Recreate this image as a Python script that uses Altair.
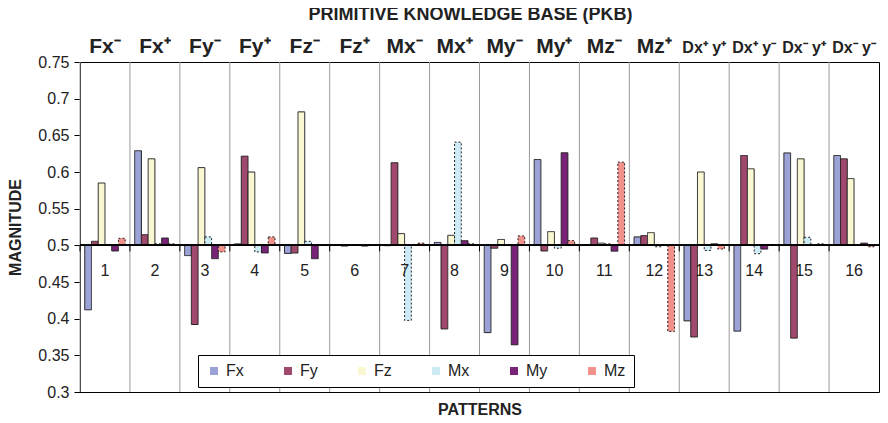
import altair as alt
import pandas as pd

# ---------------- data ----------------
PATTERNS = list(range(1, 17))
TOP_LABELS = ["Fx⁻", "Fx⁺", "Fy⁻", "Fy⁺", "Fz⁻", "Fz⁺", "Mx⁻", "Mx⁺",
              "My⁻", "My⁺", "Mz⁻", "Mz⁺", "Dx⁺ y⁺", "Dx⁺ y⁻", "Dx⁻ y⁺", "Dx⁻ y⁻"]
SERIES = ["Fx", "Fy", "Fz", "Mx", "My", "Mz"]

Fx = [0.412, 0.629, 0.486, 0.502, 0.489, 0.500, 0.4995, 0.504,
      0.381, 0.617, 0.5005, 0.5115, 0.397, 0.383, 0.626, 0.6225]
Fy = [0.5055, 0.5146, 0.392, 0.6216, 0.4895, 0.499, 0.6126, 0.386,
      0.496, 0.4923, 0.510, 0.5133, 0.375, 0.6225, 0.3735, 0.618]
Fz = [0.585, 0.618, 0.606, 0.600, 0.682, 0.500, 0.516, 0.5137,
      0.508, 0.5187, 0.503, 0.5173, 0.600, 0.6044, 0.618, 0.591]
Mx = [0.500, 0.502, 0.5115, 0.491, 0.5055, 0.500, 0.3976, 0.6407,
      0.500, 0.496, 0.502, 0.498, 0.493, 0.4886, 0.511, 0.500]
My = [0.4923, 0.510, 0.4818, 0.4896, 0.4818, 0.499, 0.500, 0.5064,
      0.3644, 0.6262, 0.492, 0.500, 0.502, 0.4949, 0.500, 0.503]
Mz = [0.5096, 0.502, 0.491, 0.5115, 0.500, 0.500, 0.503, 0.502,
      0.5128, 0.5064, 0.6134, 0.3826, 0.495, 0.501, 0.502, 0.498]

Y_TICKS = [0.3, 0.35, 0.4, 0.45, 0.5, 0.55, 0.6, 0.65, 0.7, 0.75]
Y_MIN, Y_MAX = 0.3, 0.75
BASELINE = 0.5

# ---------------- styles ----------------
COLORS = ["#9AA2D6", "#A0486E", "#FAF8D2", "#CDEBF5", "#782378", "#F0918C"]
DASHES = [[1, 0], [1, 0], [1, 0], [2, 2], [1, 0], [2, 2]]
WIDTHS = [1, 1, 1, 2, 1, 2]
FONT = "Liberation Sans"

values = {"Fx": Fx, "Fy": Fy, "Fz": Fz, "Mx": Mx, "My": My, "Mz": Mz}
rows = []
for s in SERIES:
    for p, v in zip(PATTERNS, values[s]):
        rows.append({"Pattern": p, "Series": s, "Value": v})
df = pd.DataFrame(rows)
pat_df = pd.DataFrame({"Pattern": PATTERNS, "Label": TOP_LABELS})

x_scale = alt.Scale(paddingInner=0, paddingOuter=0)
x_axis = alt.Axis(labels=False, ticks=False, domain=False,
                  title="PATTERNS", titleFontSize=16,
                  titleFontWeight="bold", titleColor="#222",
                  titlePadding=9)
y_scale = alt.Scale(domain=[Y_MIN, Y_MAX], nice=False, zero=False)
y_axis = alt.Axis(values=Y_TICKS, format="~g", title="MAGNITUDE",
                  grid=False, tickSize=6, labelPadding=5, labelOverlap=False,
                  labelFontSize=16, labelColor="#222",
                  titleFontSize=16, titleFontWeight="bold",
                  titleColor="#222", titlePadding=14,
                  domainColor="black", tickColor="black")


def xpos(**kw):
    return alt.X("Pattern:O", scale=x_scale, axis=x_axis, **kw)


def ydatum(v):
    return alt.YDatum(v, scale=y_scale, axis=y_axis)


legend_def = alt.Legend(title=None, orient="none", legendX=118, legendY=293,
                        direction="horizontal", columns=6,
                        strokeColor="black", padding=8, fillColor="white",
                        symbolType="square", symbolSize=64,
                        symbolStrokeColor="black", symbolStrokeWidth=1.2,
                        labelFontSize=16, labelColor="#222", labelFont=FONT,
                        columnPadding=36, labelOffset=4)

bars = alt.Chart(df).mark_bar(stroke="#222").encode(
    x=xpos(),
    xOffset=alt.XOffset("Series:N", sort=SERIES,
                        scale=alt.Scale(paddingInner=0, paddingOuter=0.7)),
    y=alt.Y("Value:Q", scale=y_scale, axis=y_axis),
    y2=alt.datum(BASELINE),
    color=alt.Color("Series:N", sort=SERIES,
                    scale=alt.Scale(domain=SERIES, range=COLORS),
                    legend=legend_def),
    strokeDash=alt.StrokeDash("Series:N", sort=SERIES,
                              scale=alt.Scale(domain=SERIES, range=DASHES),
                              legend=legend_def),
    strokeWidth=alt.StrokeWidth("Series:N", sort=SERIES,
                                scale=alt.Scale(domain=SERIES, range=WIDTHS),
                                legend=None),
)

separators = alt.Chart(pat_df).mark_rule(color="#9a9a9a", strokeWidth=1).encode(
    x=xpos(bandPosition=0),
    y=ydatum(Y_MAX),
    y2=alt.datum(Y_MIN),
)

baseline = alt.Chart(pat_df).mark_rule(color="black", strokeWidth=1).encode(
    y=ydatum(BASELINE))

ticks = alt.Chart(pat_df).mark_rule(color="black", strokeWidth=1, y2Offset=6).encode(
    x=xpos(bandPosition=0),
    y=ydatum(BASELINE),
    y2=alt.datum(BASELINE),
)

numbers = alt.Chart(pat_df).mark_text(font=FONT, fontSize=16, color="#222",
                                      baseline="alphabetic", dy=31).encode(
    x=xpos(),
    y=ydatum(BASELINE),
    text=alt.Text("Pattern:O"),
)

top_labels = alt.Chart(pat_df).mark_text(font=FONT, fontWeight="bold",
                                         color="#222", baseline="alphabetic",
                                         dy=-9).encode(
    x=xpos(),
    y=ydatum(Y_MAX),
    text=alt.Text("Label:N"),
    size=alt.condition(alt.datum.Pattern > 12, alt.value(16), alt.value(21)),
)

chart = alt.layer(bars, separators, baseline, ticks, numbers, top_labels).properties(
    width=799, height=330,
    autosize=alt.AutoSizeParams(type="none"),
    padding={"left": 72, "top": 54, "right": 1, "bottom": 27},
    title=alt.TitleParams("PRIMITIVE KNOWLEDGE BASE (PKB)", fontSize=18,
                          fontWeight="bold", color="#222", font=FONT,
                          anchor="middle", offset=12, dx=-9),
).configure(font=FONT).configure_view(stroke="black", strokeWidth=1)

chart.save("out.html", embed_options={"renderer": "svg", "actions": False})
